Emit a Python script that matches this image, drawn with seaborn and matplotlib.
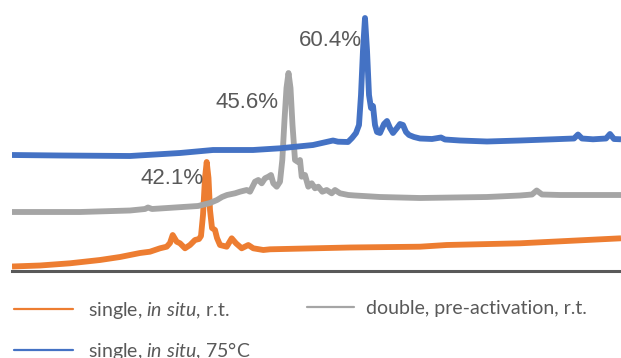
import numpy as np
import pandas as pd
import matplotlib
matplotlib.use("Agg")
import matplotlib.pyplot as plt
from matplotlib.lines import Line2D
import seaborn as sns

# ---- data (arbitrary units) ----
blue_x = [0, 48, 118, 168, 201, 241, 268, 301, 321, 326, 336, 340, 344, 347, 349, 351, 353, 355, 357, 359,
          361, 363, 365, 368, 372, 375, 378, 381, 385, 388, 391, 394, 397, 402, 408, 420, 429, 433, 448,
          475, 508, 541, 562, 566, 570, 581, 594, 598, 602, 609]
blue_y = [116, 115.5, 115, 118, 121, 121, 122.7, 126, 130.5, 129.3, 129, 133, 138, 146, 176, 221, 253, 221, 176, 163,
          165, 146, 139, 138, 147, 150, 143, 138, 143, 147, 146, 139, 136, 134, 132.5, 132, 133.5, 131.5, 130.5,
          129.5, 130.5, 131.7, 132.5, 136.5, 132.5, 131.7, 132.5, 137, 132, 131.7]

grey_x = [0, 68, 118, 133, 136, 140, 186, 198, 205, 210, 215, 223, 228, 234.7, 238, 243, 246.3, 249.7, 253, 256.3,
          259, 261.3, 264.7, 268, 270.3, 272.5, 274.5, 276.5, 278.5, 280.5, 283, 286, 288, 289.7, 293, 296.3,
          299.7, 303, 306.3, 310.3, 314.7, 319.7, 323, 328, 336.3, 343, 368, 408, 475, 508, 520, 524.7, 530,
          548, 609]
grey_y = [59, 59, 60.5, 62, 63.5, 62, 65, 68, 71, 74, 76, 77.7, 79.3, 81, 79.3, 89.3, 91, 87.7, 92.7, 94.3,
          96, 87.7, 84.3, 89.3, 111, 151, 183, 198, 183, 146, 111, 109, 111, 94.3, 96, 84.3,
          87.7, 82.7, 84.3, 79.3, 81, 77.7, 81, 77.7, 76, 75.5, 74, 73, 74, 75.5, 76.5, 80.5, 76.5,
          76, 76]

orange_x = [0, 28, 58, 88, 108, 128, 138, 148, 154.7, 158, 160.7, 164.7, 168, 173, 178, 183, 187, 189, 191, 193,
            194.7, 196.5, 198, 200, 203, 205, 208, 214.7, 219.7, 224, 229.7, 236.3, 241.3, 251.3, 258, 338,
            408, 434.7, 508, 609]
orange_y = [4.5, 5.5, 7.7, 11, 14, 18, 19.3, 22.7, 24.3, 28, 36, 29.3, 27.7, 22.7, 26, 31, 32, 35, 56, 93,
            109, 93, 61, 43, 41, 33, 26, 24.3, 32.7, 27.7, 22.7, 26, 22.7, 21, 21.7, 23.5,
            24.3, 26, 27.7, 32.7]

series_names = ["single, in situ, r.t.", "double, pre-activation, r.t.", "single, in situ, 75°C"]
legend_labels = ["single, $\\it{in\\ situ}$, r.t.", "double, pre-activation, r.t.",
                 "single, $\\it{in\\ situ}$, 75°C"]
colors = ["#ED7D31", "#A5A5A5", "#4472C4"]

peak_labels = ["42.1%", "45.6%", "60.4%"]
peak_label_x = [192, 266, 350]
peak_label_y = [93, 169, 230]

df = pd.concat([
    pd.DataFrame({"x": orange_x, "y": orange_y, "series": series_names[0]}),
    pd.DataFrame({"x": grey_x, "y": grey_y, "series": series_names[1]}),
    pd.DataFrame({"x": blue_x, "y": blue_y, "series": series_names[2]}),
])

sns.set_style("white")
plt.rcParams["font.family"] = ["Lato", "DejaVu Sans"]
plt.rcParams["mathtext.fontset"] = "custom"
plt.rcParams["mathtext.rm"] = "Lato"
plt.rcParams["mathtext.it"] = "Lato:italic"

fig = plt.figure(figsize=(6.21, 3.58), dpi=100)
ax = fig.add_axes([12 / 621, 87 / 358, 609 / 621, 271 / 358])

sns.lineplot(data=df, x="x", y="y", hue="series", hue_order=series_names,
             palette=colors, estimator=None, sort=False, linewidth=4.2,
             legend=False, ax=ax)
for ln in ax.lines:
    ln.set_solid_capstyle("butt")
    ln.set_solid_joinstyle("round")

ax.set_xlim(0, 609)
ax.set_ylim(0, 271)
ax.set_xlabel("")
ax.set_ylabel("")
ax.set_xticks([])
ax.set_yticks([])
for side in ["top", "right", "left"]:
    ax.spines[side].set_visible(False)
ax.spines["bottom"].set_color("#595959")
ax.spines["bottom"].set_linewidth(2.2)
ax.spines["bottom"].set_zorder(1)

for lab, lx, ly in zip(peak_labels, peak_label_x, peak_label_y):
    ax.text(lx, ly, lab, ha="right", va="center", fontsize=16,
            family=["Liberation Sans", "DejaVu Sans"], color="#595959")

handles = [Line2D([0], [0], color=c, lw=1.6) for c in colors]
# first column: orange, blue
leg1 = fig.legend([handles[0], handles[2]], [legend_labels[0], legend_labels[2]],
                  ncol=1, loc="upper left", bbox_to_anchor=(14 / 621, 1 - 300 / 358),
                  frameon=False, fontsize=14, handlelength=3.03, handletextpad=0.77,
                  labelspacing=0.98, borderaxespad=0, borderpad=0)
# second column: grey
leg2 = fig.legend([handles[1]], [legend_labels[1]],
                  ncol=1, loc="upper left", bbox_to_anchor=(307 / 621, 1 - 300 / 358),
                  frameon=False, fontsize=14, handlelength=2.42, handletextpad=0.62,
                  borderaxespad=0, borderpad=0)
for lg in (leg1, leg2):
    for t in lg.get_texts():
        t.set_color("#595959")

fig.savefig("out.png", dpi=100)
